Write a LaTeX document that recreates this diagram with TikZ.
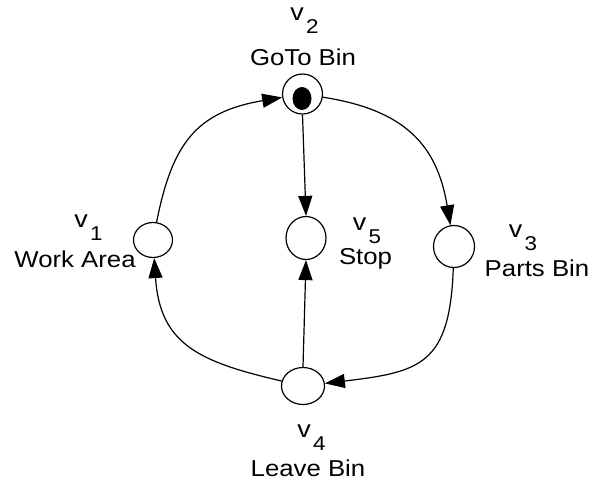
\documentclass[tikz,border=0pt]{standalone}
\usepackage{fontspec}
\setmainfont{Liberation Sans}[FakeStretch=1.12]
\usetikzlibrary{arrows.meta,shapes.geometric}
\newcommand{\vlab}[1]{{\fontsize{24}{24}\selectfont v}\hspace{2.5pt}\raisebox{-13pt}{\fontsize{20}{20}\selectfont #1}}
\begin{document}
\begin{tikzpicture}[x=1pt,y=-1pt,
  place/.style={draw,ellipse,line width=1.2pt,inner sep=0pt},
  lbl/.style={inner sep=0pt,anchor=base,font=\fontsize{23}{23}\selectfont},
  arr/.style={line width=1.2pt,-{Triangle[length=20pt,width=14pt]}}]
\useasboundingbox (0,0) rectangle (590,483);
% places
\node[place,minimum width=40pt,minimum height=40pt] (v2) at (302.5,94) {};
\node[fill=black,ellipse,inner sep=0pt,minimum width=19pt,minimum height=23pt] (tok) at (302,98.5) {};
\node[place,minimum width=39pt,minimum height=35pt] (v1) at (153,240) {};
\node[place,minimum width=40pt,minimum height=43pt] (v5) at (306,238) {};
\node[place,minimum width=41pt,minimum height=42pt] (v3) at (454,246.5) {};
\node[place,minimum width=43pt,minimum height=37pt] (v4) at (303,386) {};
% labels
\node[lbl] (l2a) at (304.5,20) {\vlab{2}};
\node[lbl] (l2b) at (303,65) {GoTo Bin};
\node[lbl] (l1a) at (88.5,227) {\vlab{1}};
\node[lbl] (l1b) at (75,267) {Work Area};
\node[lbl] (l5a) at (367,230) {\vlab{5}};
\node[lbl] (l5b) at (365.5,264) {Stop};
\node[lbl] (l3a) at (523,237) {\vlab{3}};
\node[lbl] (l3b) at (537,276) {Parts Bin};
\node[lbl] (l4a) at (311.5,437) {\vlab{4}};
\node[lbl] (l4b) at (308,476) {Leave Bin};
% arcs
\draw[arr] (v1) .. controls (172,145) and (195,112) .. (v2);
\draw[arr] (v2.south) -- (v5.north);
\draw[arr] (v2) .. controls (405,110) and (437,145) .. (v3);
\draw[arr] (v3) .. controls (450,365) and (420,372) .. (v4);
\draw[arr] (v4.north) -- (v5.south);
\draw[arr] (v4) .. controls (200,362) and (160,345) .. (v1);
\end{tikzpicture}
\end{document}
